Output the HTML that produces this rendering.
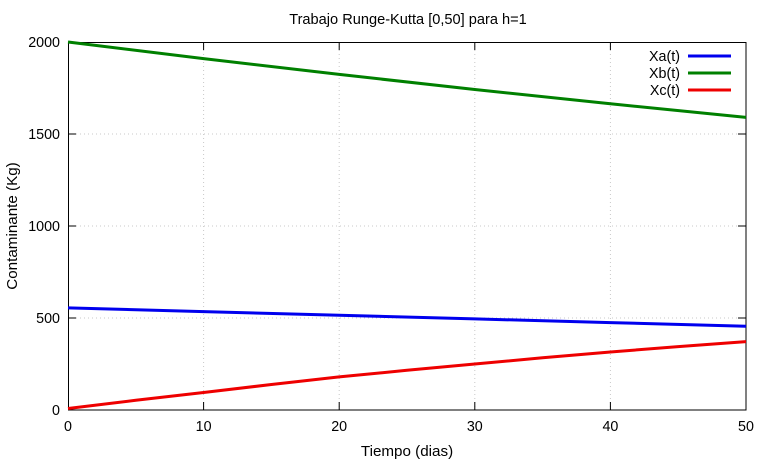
<!DOCTYPE html>
<html><head><meta charset="utf-8"><style>body{margin:0;background:#fff}svg{display:block}text{font-family:"Liberation Sans",sans-serif;font-size:14.3px;fill:#000}.l{font-size:15.2px}</style></head><body>
<svg width="764" height="460" xmlns="http://www.w3.org/2000/svg">
<rect width="764" height="460" fill="#fff"/>
<g stroke="#c8c8c8" stroke-dasharray="1,3" stroke-width="1">
<line x1="203.6" y1="42" x2="203.6" y2="410"/><line x1="339.2" y1="42" x2="339.2" y2="410"/><line x1="474.8" y1="42" x2="474.8" y2="410"/><line x1="610.4" y1="42" x2="610.4" y2="410"/>
<line x1="68" y1="134" x2="746" y2="134"/><line x1="68" y1="226" x2="746" y2="226"/><line x1="68" y1="318" x2="746" y2="318"/>
</g>
<g stroke="#000" stroke-width="1">
<rect x="68.5" y="42.5" width="677.5" height="367.5" fill="none"/>
<path d="M68 134h8M68 226h8M68 318h8M746 134h-8M746 226h-8M746 318h-8M203.6 410v-8M339.2 410v-8M474.8 410v-8M610.4 410v-8M203.6 42v8M339.2 42v8M474.8 42v8M610.4 42v8"/>
</g>
<g text-anchor="end"><text x="60" y="47">2000</text><text x="60" y="139">1500</text><text x="60" y="231">1000</text><text x="60" y="323">500</text><text x="60" y="415">0</text></g>
<g text-anchor="middle"><text x="68" y="431">0</text><text x="203.6" y="431">10</text><text x="339.2" y="431">20</text><text x="474.8" y="431">30</text><text x="610.4" y="431">40</text><text x="746" y="431">50</text>
<text x="408" y="24" style="font-size:14.6px">Trabajo Runge-Kutta [0,50] para h=1</text>
<text class="l" x="407" y="456">Tiempo (dias)</text>
<text class="l" transform="translate(17,226) rotate(-90)">Contaminante (Kg)</text></g>
<g fill="none" stroke-width="3">
<polyline stroke="#0000ee" points="68,307.9 203.6,311.6 339.2,315.2 474.8,318.9 610.4,322.6 746,326.3"/>
<polyline stroke="#008000" points="68,42 203.6,58.6 339.2,74.4 474.8,89.5 610.4,103.8 746,117.4"/>
<polyline stroke="#ee0000" points="68,408.5 135.8,400.3 203.6,392.5 271.4,384.5 339.2,376.9 407,370.3 474.8,364 542.6,357.8 610.4,352 678.2,346.6 746,341.6"/>
<line stroke="#0000ee" x1="688" y1="56" x2="731" y2="56"/>
<line stroke="#008000" x1="688" y1="73" x2="731" y2="73"/>
<line stroke="#ee0000" x1="688" y1="90" x2="731" y2="90"/>
</g>
<g text-anchor="end"><text x="680" y="61">Xa(t)</text><text x="680" y="78">Xb(t)</text><text x="680" y="95">Xc(t)</text></g>
</svg>
</body></html>
